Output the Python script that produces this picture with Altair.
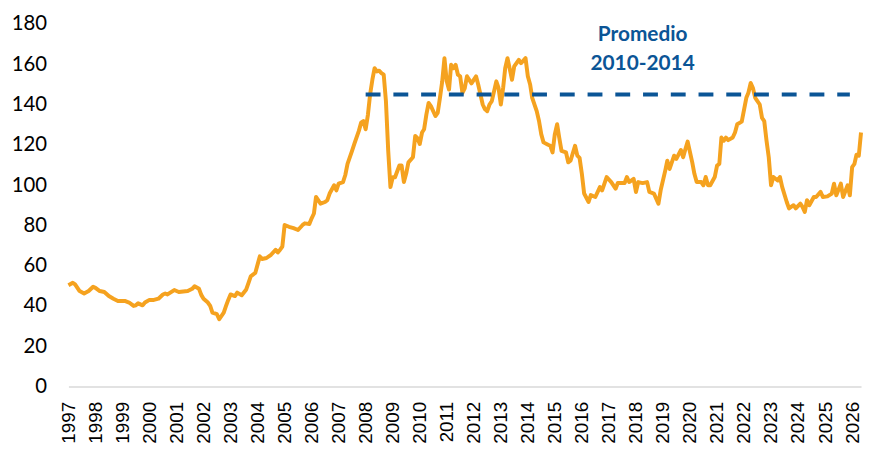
import altair as alt
import pandas as pd

months = [
    "1997-01", "1997-03", "1997-04", "1997-06", "1997-08", "1997-10", "1997-12",
    "1998-01", "1998-03", "1998-05", "1998-07", "1998-09", "1998-11",
    "1999-02", "1999-04", "1999-06", "1999-07", "1999-08", "1999-10", "1999-11",
    "2000-01", "2000-03", "2000-05", "2000-07", "2000-08", "2000-09", "2000-12",
    "2001-02", "2001-04", "2001-06", "2001-08", "2001-09", "2001-11", "2001-12",
    "2002-01", "2002-03", "2002-04", "2002-05", "2002-07", "2002-08", "2002-10", "2002-11", "2002-12",
    "2003-01", "2003-03", "2003-04", "2003-06", "2003-08", "2003-09", "2003-10", "2003-12",
    "2004-02", "2004-03", "2004-05", "2004-07", "2004-09", "2004-10", "2004-11", "2004-12",
    "2005-01", "2005-03", "2005-05", "2005-07", "2005-09", "2005-10", "2005-12",
    "2006-01", "2006-02", "2006-03", "2006-05", "2006-07", "2006-08", "2006-09", "2006-11", "2006-12",
    "2007-01", "2007-03", "2007-04", "2007-05", "2007-07", "2007-08", "2007-10", "2007-11", "2007-12",
    "2008-01", "2008-02", "2008-03", "2008-04", "2008-05", "2008-06", "2008-07", "2008-08",
    "2008-09", "2008-10", "2008-11", "2008-12",
    "2009-01", "2009-02", "2009-04", "2009-05", "2009-06", "2009-07", "2009-08", "2009-10",
    "2009-11", "2009-12",
    "2010-01", "2010-02", "2010-03", "2010-04", "2010-05", "2010-06", "2010-08", "2010-09",
    "2010-10", "2010-11", "2010-12",
    "2011-01", "2011-02", "2011-03", "2011-04", "2011-05", "2011-06", "2011-07", "2011-08",
    "2011-09", "2011-10", "2011-12",
    "2012-02", "2012-03", "2012-05", "2012-06", "2012-07", "2012-08", "2012-09", "2012-11", "2012-12",
    "2013-01", "2013-02", "2013-03", "2013-04", "2013-06", "2013-07", "2013-09", "2013-10", "2013-12",
    "2014-01", "2014-02", "2014-03", "2014-05", "2014-06", "2014-07", "2014-08", "2014-10",
    "2014-11", "2014-12",
    "2015-01", "2015-02", "2015-03", "2015-04", "2015-06", "2015-07", "2015-08", "2015-10",
    "2015-11", "2015-12",
    "2016-01", "2016-02", "2016-04", "2016-05", "2016-07", "2016-09", "2016-10", "2016-12",
    "2017-02", "2017-04", "2017-05", "2017-08", "2017-09", "2017-10", "2017-12",
    "2018-01", "2018-02", "2018-04", "2018-06", "2018-07", "2018-09", "2018-11", "2018-12",
    "2019-02", "2019-03", "2019-04", "2019-06", "2019-07", "2019-09", "2019-10", "2019-11", "2019-12",
    "2020-02", "2020-03", "2020-04", "2020-06", "2020-07", "2020-08", "2020-09", "2020-10", "2020-12",
    "2021-01", "2021-02", "2021-03", "2021-04", "2021-05", "2021-06", "2021-08", "2021-09",
    "2021-10", "2021-12",
    "2022-02", "2022-03", "2022-04", "2022-05", "2022-06", "2022-08", "2022-09", "2022-10",
    "2022-11", "2022-12",
    "2023-01", "2023-02", "2023-04", "2023-05", "2023-06", "2023-08", "2023-09", "2023-11", "2023-12",
    "2024-02", "2024-03", "2024-04", "2024-05", "2024-06", "2024-08", "2024-09", "2024-11", "2024-12",
    "2025-02", "2025-04", "2025-05", "2025-06", "2025-08", "2025-09", "2025-11", "2025-12",
    "2026-01", "2026-02", "2026-03", "2026-04", "2026-05",
]

values = [
    50.3, 51.5, 50.7, 47.4, 46.2, 47.4, 49.5,
    49.0, 47.4, 46.9, 44.9, 43.6, 42.5,
    42.5, 41.7, 40.0, 40.3, 41.3, 40.3, 41.7,
    43.0, 43.0, 43.6, 45.7, 46.2, 45.7, 47.9,
    46.9, 47.2, 47.4, 48.5, 49.8, 48.5, 45.5,
    43.6, 41.7, 40.0, 36.7, 35.9, 33.4, 36.7, 40.0, 43.0,
    45.7, 44.9, 46.6, 45.3, 48.2, 51.5, 54.7, 56.4,
    64.6, 63.3, 63.8, 65.4, 67.9, 66.6, 67.9, 69.5,
    80.2, 79.3, 78.6, 77.7, 80.2, 81.0, 80.7,
    83.5, 85.9, 94.1, 90.8, 91.6, 92.5, 95.8, 99.9, 97.4,
    100.7, 101.5, 105.0, 110.5, 117.0, 120.4, 126.9, 131.0, 131.8,
    127.7, 135.0, 145.0, 152.3, 158.0, 156.4, 156.8, 155.6,
    154.8, 141.7, 117.0, 99.0,
    103.9, 103.9, 109.7, 109.7, 101.5, 105.6, 111.3, 113.8,
    124.4, 123.3,
    120.4, 126.1, 127.7, 135.1, 140.8, 139.2, 134.3, 135.9,
    143.3, 151.5, 163.0,
    151.5, 147.4, 159.7, 158.0, 159.7, 154.8, 154.0, 145.8,
    148.0, 154.0, 150.5,
    154.0, 149.9, 140.0, 137.6, 136.7, 140.0, 141.7, 151.5, 148.2,
    140.0, 148.2, 158.0, 163.0, 152.3, 158.9, 162.2, 160.5, 163.0,
    154.0, 149.9, 143.3, 136.7, 131.8, 125.3, 121.2, 120.0,
    119.5, 116.2,
    125.3, 130.2, 123.6, 117.0, 116.2, 111.3, 112.1, 119.5,
    114.6, 113.5,
    105.6, 95.8, 91.6, 95.0, 94.1, 99.0, 97.4, 104.0,
    101.5, 98.2, 101.0, 101.0, 104.0, 101.5, 103.1,
    96.6, 101.5, 101.0, 101.5, 96.6, 95.8, 90.8, 97.4,
    107.2, 112.1, 108.0, 114.6, 113.0, 117.4, 113.8, 117.9, 121.6,
    111.3, 105.6, 101.5, 101.5, 99.9, 104.0, 99.9, 99.9, 104.0,
    109.7, 110.5, 123.6, 122.0, 123.6, 122.3, 123.6, 126.1,
    130.2, 131.5,
    143.3, 145.8, 150.7, 148.2, 143.3, 140.0, 133.4, 131.8,
    122.0, 113.8,
    99.9, 104.0, 102.3, 104.0, 99.0, 91.6, 88.4, 90.0, 88.4,
    90.8, 89.2, 86.7, 92.5, 90.0, 94.1, 94.1, 96.6, 94.1,
    94.4, 95.8, 100.7, 94.9, 100.7, 94.1, 99.9, 94.9,
    108.9, 110.5, 115.1, 114.6, 126.1,
]

avg_value = 145
avg_start = "2008-01"
avg_end = "2025-12"
annot_lines = ["Promedio", "2010-2014"]
annot_month = "2018-04"
annot_y = [174.5, 160.3]
years = list(range(1997, 2027))

ORANGE = "#F5A21F"
BLUE = "#0B5596"

df = pd.DataFrame({"date": [m + "-01" for m in months], "value": values})
avg_df = pd.DataFrame({"start": [avg_start + "-01"], "end": [avg_end + "-01"], "value": [avg_value]})
annot_df = pd.DataFrame({"date": [annot_month + "-01"] * 2, "y": annot_y, "text": annot_lines})

xscale = alt.Scale(domain=["1997-01-01", "2026-05-01"])
yscale = alt.Scale(domain=[0, 180])

x_axis = alt.Axis(values=[alt.DateTime(year=y, month=1, date=1) for y in years],
                  format="%Y", labelAngle=-90, labelAlign="right", labelBaseline="middle",
                  labelPadding=15, labelOffset=0, ticks=False, grid=False,
                  domainColor="#D9D9D9", domainWidth=1.5,
                  labelFont="Liberation Sans", labelFontSize=19, labelColor="#000000",
                  title=None, labelOverlap=False, labelBound=False, labelFlush=False)
y_axis = alt.Axis(values=list(range(0, 181, 20)), ticks=False, grid=False, domain=False,
                  labelPadding=22, labelFont="Lato", labelFontSize=20.5,
                  labelColor="#000000", title=None)

line = alt.Chart(df).mark_line(color=ORANGE, strokeWidth=4, strokeJoin="round", clip=False).encode(
    x=alt.X("date:T", scale=xscale, axis=x_axis),
    y=alt.Y("value:Q", scale=yscale, axis=y_axis),
)

rule = alt.Chart(avg_df).mark_rule(color=BLUE, strokeWidth=4, strokeDash=[15, 13]).encode(
    x=alt.X("start:T", scale=xscale, axis=x_axis),
    x2="end:T",
    y=alt.Y("value:Q", scale=yscale, axis=y_axis),
)

text = alt.Chart(annot_df).mark_text(color=BLUE, font="Lato", fontWeight="bold", fontSize=21,
                                     align="center", baseline="middle").encode(
    x=alt.X("date:T", scale=xscale, axis=x_axis),
    y=alt.Y("y:Q", scale=yscale, axis=y_axis),
    text="text:N",
)

chart = alt.layer(line, rule, text).properties(
    width=800, height=366,
    autosize=alt.AutoSizeParams(type="none"),
    padding={"left": 61, "top": 14, "right": 2, "bottom": 63},
).configure_view(stroke=None).configure_axisX(
    labelOverlap=False, labelFontSize=19, labelFont="Liberation Sans"
).configure_axisY(
    labelFontSize=20.5, labelFont="Lato"
)

chart.save("out.html", embed_options={"renderer": "svg", "actions": False})
